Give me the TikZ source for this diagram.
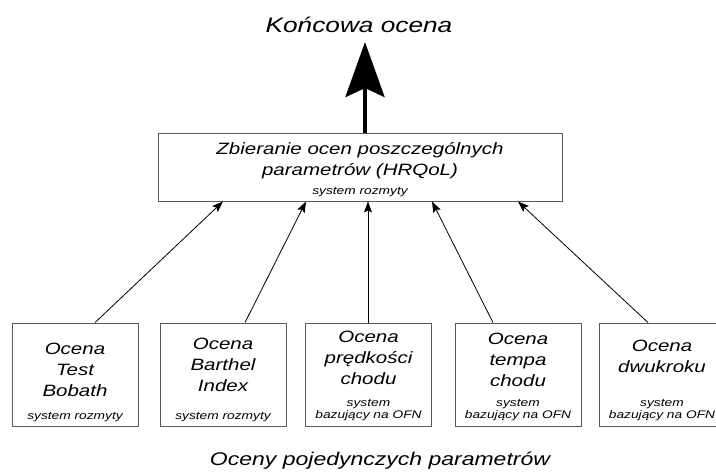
\documentclass[tikz,border=0pt]{standalone}
\usepackage{fontspec}
\setmainfont{Liberation Sans}[FakeStretch=1.25]
\usetikzlibrary{arrows.meta}
\begin{document}
\begin{tikzpicture}[
x=1pt,y=-1pt,
ocena/.style={draw=black!65,line width=0.9pt,minimum width=126pt,minimum height=103pt,inner sep=0pt},
opis/.style={align=center,inner sep=0pt,anchor=north,font=\fontsize{16.4}{21}\selectfont\itshape},
maly/.style={align=center,inner sep=0pt,anchor=south,font=\fontsize{11}{12.5}\selectfont\itshape},
tytul/.style={inner sep=0pt,anchor=base,font=\fontsize{21}{21}\selectfont\itshape},
strzalka/.style={-{Stealth[length=11pt,width=8pt,inset=2pt]},line width=0.8pt}
]
\clip (0,0) rectangle (716,475);
\node[tytul] (koniec) at (359,32) {Końcowa ocena};
\node[ocena,minimum width=404pt,minimum height=68pt] (zb) at (360,167) {};
\node[opis] (zbt) at ([yshift=-10pt]zb.north) {Zbieranie ocen poszczególnych\\parametrów (HRQoL)};
\node[maly] (zbm) at ([yshift=4pt]zb.south) {system rozmyty};

\node[ocena] (b1) at (75,374.5) {};
\node[opis] (b1t) at ([yshift=-20pt]b1.north) {Ocena\\Test\\Bobath};
\node[maly] (b1m) at ([yshift=4pt]b1.south) {system rozmyty};
\node[ocena] (b2) at (223,374.5) {};
\node[opis] (b2t) at ([yshift=-15pt]b2.north) {Ocena\\Barthel\\Index};
\node[maly] (b2m) at ([yshift=4pt]b2.south) {system rozmyty};
\node[ocena] (b3) at (368.5,374.5) {};
\node[opis] (b3t) at ([yshift=-8pt]b3.north) {Ocena\\prędkości\\chodu};
\node[maly] (b3m) at ([yshift=5pt]b3.south) {system\\bazujący na OFN};
\node[ocena] (b4) at (518,374.5) {};
\node[opis] (b4t) at ([yshift=-10pt]b4.north) {Ocena\\tempa\\chodu};
\node[maly] (b4m) at ([yshift=5pt]b4.south) {system\\bazujący na OFN};
\node[ocena] (b5) at (662,374.5) {};
\node[opis] (b5t) at ([yshift=-17pt]b5.north) {Ocena\\dwukroku};
\node[maly] (b5m) at ([yshift=5pt]b5.south) {system\\bazujący na OFN};

\node[tytul,font=\fontsize{18.4}{18.4}\selectfont\itshape] (oceny) at (380,465) {Oceny pojedynczych parametrów};

\draw[strzalka] ([xshift=20pt]b1.north)--([xshift=-137pt]zb.south);
\draw[strzalka] ([xshift=22pt]b2.north)--([xshift=-54pt]zb.south);
\draw[strzalka] ([xshift=-0.5pt]b3.north)--([xshift=8pt]zb.south);
\draw[strzalka] ([xshift=-25pt]b4.north)--([xshift=72pt]zb.south);
\draw[strzalka] ([xshift=-14pt]b5.north)--([xshift=158pt]zb.south);

\coordinate (szczyt) at (365,42);
\draw[line width=4pt,-{Stealth[length=55pt,width=39pt,inset=9pt]}] ([xshift=5pt]zb.north)--(szczyt);
\end{tikzpicture}
\end{document}
